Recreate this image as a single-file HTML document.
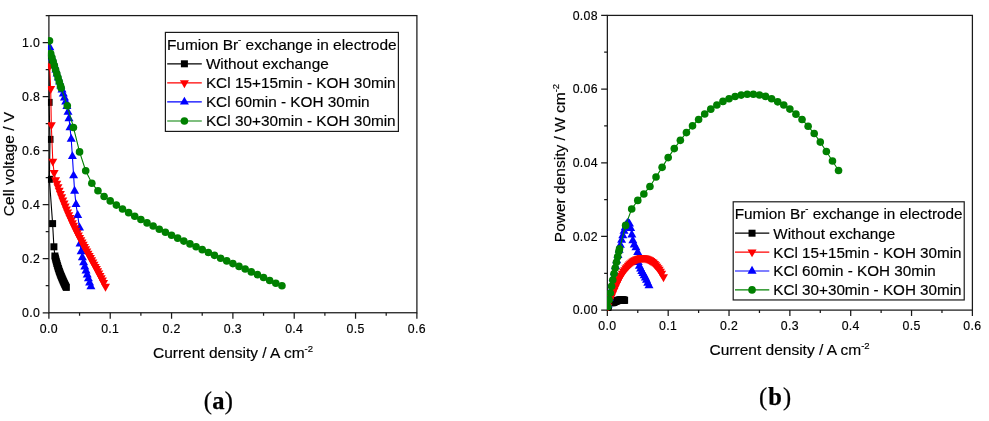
<!DOCTYPE html>
<html><head><meta charset="utf-8"><title>Figure</title>
<style>
html,body{margin:0;padding:0;background:#fff;}
body{width:989px;height:421px;overflow:hidden;font-family:"Liberation Sans",sans-serif;}
svg{display:block;will-change:transform;}
text{font-family:"Liberation Sans",sans-serif;fill:#000;stroke:#000;stroke-width:0.16px;}
.tk{font-size:12.3px;letter-spacing:0.35px;}
.ti{font-size:15.5px;}
.lg{font-size:15.35px;}
.cp{font-family:"Liberation Serif",serif;font-size:24.5px;fill:#000;stroke-width:0.25px;}
</style></head><body>
<svg width="989" height="421" viewBox="0 0 989 421">
<rect width="989" height="421" fill="#fff"/>
<defs><clipPath id="cl"><rect x="47.95" y="14.80" width="369.75" height="298.75"/></clipPath><clipPath id="cr"><rect x="607.00" y="14.60" width="366.20" height="296.30"/></clipPath></defs>
<rect x="48.9" y="15.6" width="368.00" height="297.15" fill="none" stroke="#1a1a1a" stroke-width="1.25"/>
<path d="M48.9 312.75h-6.2M48.9 258.72h-6.2M48.9 204.69h-6.2M48.9 150.67h-6.2M48.9 96.64h-6.2M48.9 42.61h-6.2M48.9 285.74h-3.2M48.9 231.71h-3.2M48.9 177.68h-3.2M48.9 123.65h-3.2M48.9 69.62h-3.2M48.9 15.60h-3.2M48.90 312.75v5.9M110.23 312.75v5.9M171.56 312.75v5.9M232.89 312.75v5.9M294.22 312.75v5.9M355.55 312.75v5.9M416.88 312.75v5.9M79.56 312.75v2.9M140.89 312.75v2.9M202.22 312.75v2.9M263.55 312.75v2.9M324.88 312.75v2.9M386.21 312.75v2.9" stroke="#1a1a1a" stroke-width="1.25" fill="none"/>
<text x="40.2" y="317.05" text-anchor="end" class="tk">0.0</text>
<text x="40.2" y="263.02" text-anchor="end" class="tk">0.2</text>
<text x="40.2" y="208.99" text-anchor="end" class="tk">0.4</text>
<text x="40.2" y="154.97" text-anchor="end" class="tk">0.6</text>
<text x="40.2" y="100.94" text-anchor="end" class="tk">0.8</text>
<text x="40.2" y="46.91" text-anchor="end" class="tk">1.0</text>
<text x="48.90" y="333.1" text-anchor="middle" class="tk">0.0</text>
<text x="110.23" y="333.1" text-anchor="middle" class="tk">0.1</text>
<text x="171.56" y="333.1" text-anchor="middle" class="tk">0.2</text>
<text x="232.89" y="333.1" text-anchor="middle" class="tk">0.3</text>
<text x="294.22" y="333.1" text-anchor="middle" class="tk">0.4</text>
<text x="355.55" y="333.1" text-anchor="middle" class="tk">0.5</text>
<text x="416.88" y="333.1" text-anchor="middle" class="tk">0.6</text>
<text transform="translate(14.0,164) rotate(-90)" text-anchor="middle" class="ti">Cell voltage / V</text>
<text x="233.0" y="358.3" text-anchor="middle" class="ti">Current density / A cm<tspan dy="-6" font-size="9.5">-2</tspan></text>
<g clip-path="url(#cl)"><polyline fill="none" stroke="#000000" stroke-width="1.1" points="49.50,56.00 49.10,102.40 50.00,139.40 49.40,179.30 52.60,223.60 53.90,246.80 54.90,256.00 55.40,258.01 55.89,259.95 56.39,261.82 56.88,263.59 57.38,265.28 57.87,266.92 58.37,268.49 58.87,269.99 59.36,271.43 59.86,272.80 60.35,274.11 60.85,275.37 61.34,276.59 61.84,277.78 62.33,278.93 62.83,280.07 63.33,281.19 63.82,282.28 64.32,283.36 64.81,284.41 65.31,285.43 65.80,286.43 66.30,287.40"/>
<g><rect x="46.00" y="52.50" width="7.00" height="7.00" fill="#000000"/><rect x="45.60" y="98.90" width="7.00" height="7.00" fill="#000000"/><rect x="46.50" y="135.90" width="7.00" height="7.00" fill="#000000"/><rect x="45.90" y="175.80" width="7.00" height="7.00" fill="#000000"/><rect x="49.10" y="220.10" width="7.00" height="7.00" fill="#000000"/><rect x="50.40" y="243.30" width="7.00" height="7.00" fill="#000000"/><rect x="51.40" y="252.50" width="7.00" height="7.00" fill="#000000"/><rect x="51.90" y="254.51" width="7.00" height="7.00" fill="#000000"/><rect x="52.39" y="256.45" width="7.00" height="7.00" fill="#000000"/><rect x="52.89" y="258.32" width="7.00" height="7.00" fill="#000000"/><rect x="53.38" y="260.09" width="7.00" height="7.00" fill="#000000"/><rect x="53.88" y="261.78" width="7.00" height="7.00" fill="#000000"/><rect x="54.37" y="263.42" width="7.00" height="7.00" fill="#000000"/><rect x="54.87" y="264.99" width="7.00" height="7.00" fill="#000000"/><rect x="55.37" y="266.49" width="7.00" height="7.00" fill="#000000"/><rect x="55.86" y="267.93" width="7.00" height="7.00" fill="#000000"/><rect x="56.36" y="269.30" width="7.00" height="7.00" fill="#000000"/><rect x="56.85" y="270.61" width="7.00" height="7.00" fill="#000000"/><rect x="57.35" y="271.87" width="7.00" height="7.00" fill="#000000"/><rect x="57.84" y="273.09" width="7.00" height="7.00" fill="#000000"/><rect x="58.34" y="274.28" width="7.00" height="7.00" fill="#000000"/><rect x="58.83" y="275.43" width="7.00" height="7.00" fill="#000000"/><rect x="59.33" y="276.57" width="7.00" height="7.00" fill="#000000"/><rect x="59.83" y="277.69" width="7.00" height="7.00" fill="#000000"/><rect x="60.32" y="278.78" width="7.00" height="7.00" fill="#000000"/><rect x="60.82" y="279.86" width="7.00" height="7.00" fill="#000000"/><rect x="61.31" y="280.91" width="7.00" height="7.00" fill="#000000"/><rect x="61.81" y="281.93" width="7.00" height="7.00" fill="#000000"/><rect x="62.30" y="282.93" width="7.00" height="7.00" fill="#000000"/><rect x="62.80" y="283.90" width="7.00" height="7.00" fill="#000000"/></g>
<polyline fill="none" stroke="#0000ff" stroke-width="1.1" points="49.80,47.50 51.00,54.00 52.23,57.98 53.45,61.96 54.68,65.94 55.90,69.92 57.13,73.90 58.36,77.88 59.58,81.86 60.81,85.84 62.03,89.82 63.26,93.80 64.49,97.78 65.71,101.76 66.90,106.40 68.00,112.00 69.00,118.50 70.00,127.60 71.20,139.00 72.40,156.40 73.60,175.70 74.60,191.10 76.00,204.40 77.70,215.30 79.50,227.80 80.00,243.80 81.20,251.60 82.40,257.50 83.60,262.50 84.80,266.80 86.00,270.80 87.20,274.80 88.40,278.70 89.60,282.80 90.90,286.60"/>
<g><path d="M45.30 50.13L54.30 50.13L49.80 42.23Z" fill="#0000ff"/><path d="M46.50 56.63L55.50 56.63L51.00 48.73Z" fill="#0000ff"/><path d="M47.73 60.61L56.73 60.61L52.23 52.71Z" fill="#0000ff"/><path d="M48.95 64.59L57.95 64.59L53.45 56.69Z" fill="#0000ff"/><path d="M50.18 68.57L59.18 68.57L54.68 60.67Z" fill="#0000ff"/><path d="M51.40 72.55L60.40 72.55L55.90 64.65Z" fill="#0000ff"/><path d="M52.63 76.53L61.63 76.53L57.13 68.63Z" fill="#0000ff"/><path d="M53.86 80.52L62.86 80.52L58.36 72.62Z" fill="#0000ff"/><path d="M55.08 84.50L64.08 84.50L59.58 76.60Z" fill="#0000ff"/><path d="M56.31 88.48L65.31 88.48L60.81 80.58Z" fill="#0000ff"/><path d="M57.53 92.46L66.53 92.46L62.03 84.56Z" fill="#0000ff"/><path d="M58.76 96.44L67.76 96.44L63.26 88.54Z" fill="#0000ff"/><path d="M59.99 100.42L68.99 100.42L64.49 92.52Z" fill="#0000ff"/><path d="M61.21 104.40L70.21 104.40L65.71 96.50Z" fill="#0000ff"/><path d="M62.40 109.03L71.40 109.03L66.90 101.13Z" fill="#0000ff"/><path d="M63.50 114.63L72.50 114.63L68.00 106.73Z" fill="#0000ff"/><path d="M64.50 121.13L73.50 121.13L69.00 113.23Z" fill="#0000ff"/><path d="M65.50 130.23L74.50 130.23L70.00 122.33Z" fill="#0000ff"/><path d="M66.70 141.63L75.70 141.63L71.20 133.73Z" fill="#0000ff"/><path d="M67.90 159.03L76.90 159.03L72.40 151.13Z" fill="#0000ff"/><path d="M69.10 178.33L78.10 178.33L73.60 170.43Z" fill="#0000ff"/><path d="M70.10 193.73L79.10 193.73L74.60 185.83Z" fill="#0000ff"/><path d="M71.50 207.03L80.50 207.03L76.00 199.13Z" fill="#0000ff"/><path d="M73.20 217.93L82.20 217.93L77.70 210.03Z" fill="#0000ff"/><path d="M75.00 230.43L84.00 230.43L79.50 222.53Z" fill="#0000ff"/><path d="M75.50 246.43L84.50 246.43L80.00 238.53Z" fill="#0000ff"/><path d="M76.70 254.23L85.70 254.23L81.20 246.33Z" fill="#0000ff"/><path d="M77.90 260.13L86.90 260.13L82.40 252.23Z" fill="#0000ff"/><path d="M79.10 265.13L88.10 265.13L83.60 257.23Z" fill="#0000ff"/><path d="M80.30 269.43L89.30 269.43L84.80 261.53Z" fill="#0000ff"/><path d="M81.50 273.43L90.50 273.43L86.00 265.53Z" fill="#0000ff"/><path d="M82.70 277.43L91.70 277.43L87.20 269.53Z" fill="#0000ff"/><path d="M83.90 281.33L92.90 281.33L88.40 273.43Z" fill="#0000ff"/><path d="M85.10 285.43L94.10 285.43L89.60 277.53Z" fill="#0000ff"/><path d="M86.40 289.23L95.40 289.23L90.90 281.33Z" fill="#0000ff"/></g>
<polyline fill="none" stroke="#ff0000" stroke-width="1.1" points="49.60,66.00 50.70,88.70 51.30,124.90 52.80,161.30 54.10,172.70 55.60,179.79 56.80,183.41 58.00,186.94 59.20,190.37 60.40,193.71 61.60,196.96 62.80,200.12 64.00,203.21 65.20,206.22 66.40,209.15 67.60,212.02 68.80,214.82 70.00,217.55 71.20,220.23 72.40,222.84 73.60,225.41 74.80,227.92 76.00,230.39 77.20,232.82 78.40,235.21 79.60,237.56 80.80,239.88 82.00,242.18 83.20,244.44 84.40,246.69 85.60,248.92 86.80,251.13 88.00,253.33 89.20,255.53 90.40,257.72 91.60,259.91 92.80,262.10 94.00,264.30 95.20,266.51 96.40,268.74 97.60,270.98 98.80,273.24 100.00,275.53 101.20,277.84 102.40,280.18 103.60,282.56 105.50,286.41"/>
<g><path d="M45.10 63.37L54.10 63.37L49.60 71.27Z" fill="#ff0000"/><path d="M46.20 86.07L55.20 86.07L50.70 93.97Z" fill="#ff0000"/><path d="M46.80 122.27L55.80 122.27L51.30 130.17Z" fill="#ff0000"/><path d="M48.30 158.67L57.30 158.67L52.80 166.57Z" fill="#ff0000"/><path d="M49.60 170.07L58.60 170.07L54.10 177.97Z" fill="#ff0000"/><path d="M51.10 177.15L60.10 177.15L55.60 185.05Z" fill="#ff0000"/><path d="M52.30 180.78L61.30 180.78L56.80 188.68Z" fill="#ff0000"/><path d="M53.50 184.30L62.50 184.30L58.00 192.20Z" fill="#ff0000"/><path d="M54.70 187.73L63.70 187.73L59.20 195.63Z" fill="#ff0000"/><path d="M55.90 191.07L64.90 191.07L60.40 198.97Z" fill="#ff0000"/><path d="M57.10 194.32L66.10 194.32L61.60 202.22Z" fill="#ff0000"/><path d="M58.30 197.49L67.30 197.49L62.80 205.39Z" fill="#ff0000"/><path d="M59.50 200.58L68.50 200.58L64.00 208.48Z" fill="#ff0000"/><path d="M60.70 203.59L69.70 203.59L65.20 211.49Z" fill="#ff0000"/><path d="M61.90 206.52L70.90 206.52L66.40 214.42Z" fill="#ff0000"/><path d="M63.10 209.39L72.10 209.39L67.60 217.29Z" fill="#ff0000"/><path d="M64.30 212.18L73.30 212.18L68.80 220.08Z" fill="#ff0000"/><path d="M65.50 214.92L74.50 214.92L70.00 222.82Z" fill="#ff0000"/><path d="M66.70 217.59L75.70 217.59L71.20 225.49Z" fill="#ff0000"/><path d="M67.90 220.21L76.90 220.21L72.40 228.11Z" fill="#ff0000"/><path d="M69.10 222.77L78.10 222.77L73.60 230.67Z" fill="#ff0000"/><path d="M70.30 225.29L79.30 225.29L74.80 233.19Z" fill="#ff0000"/><path d="M71.50 227.76L80.50 227.76L76.00 235.66Z" fill="#ff0000"/><path d="M72.70 230.19L81.70 230.19L77.20 238.09Z" fill="#ff0000"/><path d="M73.90 232.58L82.90 232.58L78.40 240.48Z" fill="#ff0000"/><path d="M75.10 234.93L84.10 234.93L79.60 242.83Z" fill="#ff0000"/><path d="M76.30 237.25L85.30 237.25L80.80 245.15Z" fill="#ff0000"/><path d="M77.50 239.54L86.50 239.54L82.00 247.44Z" fill="#ff0000"/><path d="M78.70 241.81L87.70 241.81L83.20 249.71Z" fill="#ff0000"/><path d="M79.90 244.06L88.90 244.06L84.40 251.96Z" fill="#ff0000"/><path d="M81.10 246.28L90.10 246.28L85.60 254.18Z" fill="#ff0000"/><path d="M82.30 248.50L91.30 248.50L86.80 256.40Z" fill="#ff0000"/><path d="M83.50 250.70L92.50 250.70L88.00 258.60Z" fill="#ff0000"/><path d="M84.70 252.90L93.70 252.90L89.20 260.80Z" fill="#ff0000"/><path d="M85.90 255.09L94.90 255.09L90.40 262.99Z" fill="#ff0000"/><path d="M87.10 257.28L96.10 257.28L91.60 265.18Z" fill="#ff0000"/><path d="M88.30 259.47L97.30 259.47L92.80 267.37Z" fill="#ff0000"/><path d="M89.50 261.67L98.50 261.67L94.00 269.57Z" fill="#ff0000"/><path d="M90.70 263.88L99.70 263.88L95.20 271.78Z" fill="#ff0000"/><path d="M91.90 266.11L100.90 266.11L96.40 274.01Z" fill="#ff0000"/><path d="M93.10 268.35L102.10 268.35L97.60 276.25Z" fill="#ff0000"/><path d="M94.30 270.61L103.30 270.61L98.80 278.51Z" fill="#ff0000"/><path d="M95.50 272.89L104.50 272.89L100.00 280.79Z" fill="#ff0000"/><path d="M96.70 275.21L105.70 275.21L101.20 283.11Z" fill="#ff0000"/><path d="M97.90 277.55L106.90 277.55L102.40 285.45Z" fill="#ff0000"/><path d="M99.10 279.93L108.10 279.93L103.60 287.83Z" fill="#ff0000"/><path d="M101.00 283.77L110.00 283.77L105.50 291.67Z" fill="#ff0000"/></g>
<polyline fill="none" stroke="#008000" stroke-width="1.1" points="49.50,40.85 50.70,53.50 51.93,57.55 53.15,61.60 54.38,65.64 55.60,69.69 56.83,73.74 58.06,77.79 59.28,81.84 60.51,85.88 61.17,87.99 67.30,105.69 73.43,127.43 79.56,151.88 85.70,170.79 91.83,183.22 97.96,190.78 104.10,196.45 110.23,200.91 116.36,205.10 122.50,209.02 128.63,212.64 134.76,216.23 140.89,219.55 147.03,222.90 153.16,226.06 159.29,229.20 165.43,232.19 171.56,235.25 177.69,238.14 183.83,241.08 189.96,243.92 196.09,246.78 202.22,249.67 208.36,252.48 214.49,255.35 220.62,258.21 226.76,260.88 232.89,263.61 239.02,266.39 245.16,269.07 251.29,271.90 257.42,274.66 263.56,277.55 269.69,280.44 275.82,283.20 281.95,285.82"/>
<g><circle cx="49.50" cy="40.85" r="3.8" fill="#008000"/><circle cx="50.70" cy="53.50" r="3.8" fill="#008000"/><circle cx="51.93" cy="57.55" r="3.8" fill="#008000"/><circle cx="53.15" cy="61.60" r="3.8" fill="#008000"/><circle cx="54.38" cy="65.64" r="3.8" fill="#008000"/><circle cx="55.60" cy="69.69" r="3.8" fill="#008000"/><circle cx="56.83" cy="73.74" r="3.8" fill="#008000"/><circle cx="58.06" cy="77.79" r="3.8" fill="#008000"/><circle cx="59.28" cy="81.84" r="3.8" fill="#008000"/><circle cx="60.51" cy="85.88" r="3.8" fill="#008000"/><circle cx="61.17" cy="87.99" r="3.8" fill="#008000"/><circle cx="67.30" cy="105.69" r="3.8" fill="#008000"/><circle cx="73.43" cy="127.43" r="3.8" fill="#008000"/><circle cx="79.56" cy="151.88" r="3.8" fill="#008000"/><circle cx="85.70" cy="170.79" r="3.8" fill="#008000"/><circle cx="91.83" cy="183.22" r="3.8" fill="#008000"/><circle cx="97.96" cy="190.78" r="3.8" fill="#008000"/><circle cx="104.10" cy="196.45" r="3.8" fill="#008000"/><circle cx="110.23" cy="200.91" r="3.8" fill="#008000"/><circle cx="116.36" cy="205.10" r="3.8" fill="#008000"/><circle cx="122.50" cy="209.02" r="3.8" fill="#008000"/><circle cx="128.63" cy="212.64" r="3.8" fill="#008000"/><circle cx="134.76" cy="216.23" r="3.8" fill="#008000"/><circle cx="140.89" cy="219.55" r="3.8" fill="#008000"/><circle cx="147.03" cy="222.90" r="3.8" fill="#008000"/><circle cx="153.16" cy="226.06" r="3.8" fill="#008000"/><circle cx="159.29" cy="229.20" r="3.8" fill="#008000"/><circle cx="165.43" cy="232.19" r="3.8" fill="#008000"/><circle cx="171.56" cy="235.25" r="3.8" fill="#008000"/><circle cx="177.69" cy="238.14" r="3.8" fill="#008000"/><circle cx="183.83" cy="241.08" r="3.8" fill="#008000"/><circle cx="189.96" cy="243.92" r="3.8" fill="#008000"/><circle cx="196.09" cy="246.78" r="3.8" fill="#008000"/><circle cx="202.22" cy="249.67" r="3.8" fill="#008000"/><circle cx="208.36" cy="252.48" r="3.8" fill="#008000"/><circle cx="214.49" cy="255.35" r="3.8" fill="#008000"/><circle cx="220.62" cy="258.21" r="3.8" fill="#008000"/><circle cx="226.76" cy="260.88" r="3.8" fill="#008000"/><circle cx="232.89" cy="263.61" r="3.8" fill="#008000"/><circle cx="239.02" cy="266.39" r="3.8" fill="#008000"/><circle cx="245.16" cy="269.07" r="3.8" fill="#008000"/><circle cx="251.29" cy="271.90" r="3.8" fill="#008000"/><circle cx="257.42" cy="274.66" r="3.8" fill="#008000"/><circle cx="263.56" cy="277.55" r="3.8" fill="#008000"/><circle cx="269.69" cy="280.44" r="3.8" fill="#008000"/><circle cx="275.82" cy="283.20" r="3.8" fill="#008000"/><circle cx="281.95" cy="285.82" r="3.8" fill="#008000"/></g></g>
<rect x="165.4" y="32.4" width="233.00" height="99.00" fill="#fff" stroke="#1a1a1a" stroke-width="1.2"/>
<text x="166.9" y="49.70" class="lg" style="font-size:15.45px">Fumion Br<tspan dy="-6.5" font-size="9.5">-</tspan><tspan dy="6.5"> exchange in electrode</tspan></text>
<line x1="167.20000000000002" x2="201.80" y1="63.80" y2="63.80" stroke="#000000" stroke-width="1.2"/>
<rect x="180.90" y="60.30" width="7.00" height="7.00" fill="#000000"/>
<text x="205.90" y="69.20" class="lg" style="font-size:15.35px">Without exchange</text>
<line x1="167.20000000000002" x2="201.80" y1="82.87" y2="82.87" stroke="#ff0000" stroke-width="1.2"/>
<path d="M179.90 80.24L188.90 80.24L184.40 88.14Z" fill="#ff0000"/>
<text x="205.90" y="88.27" class="lg" style="font-size:15.35px">KCl 15+15min - KOH 30min</text>
<line x1="167.20000000000002" x2="201.80" y1="101.94" y2="101.94" stroke="#0000ff" stroke-width="1.2"/>
<path d="M179.90 104.57L188.90 104.57L184.40 96.67Z" fill="#0000ff"/>
<text x="205.90" y="107.34" class="lg" style="font-size:15.35px">KCl 60min - KOH 30min</text>
<line x1="167.20000000000002" x2="201.80" y1="121.01" y2="121.01" stroke="#008000" stroke-width="1.2"/>
<circle cx="184.40" cy="121.01" r="3.8" fill="#008000"/>
<text x="205.90" y="126.41" class="lg" style="font-size:15.35px">KCl 30+30min - KOH 30min</text>
<rect x="607.35" y="15.4" width="365.05" height="294.70" fill="none" stroke="#1a1a1a" stroke-width="1.25"/>
<path d="M607.35 310.10h-6.2M607.35 236.43h-6.2M607.35 162.75h-6.2M607.35 89.08h-6.2M607.35 15.40h-6.2M607.35 273.26h-3.2M607.35 199.59h-3.2M607.35 125.91h-3.2M607.35 52.24h-3.2M607.35 310.1v5.9M668.19 310.1v5.9M729.03 310.1v5.9M789.87 310.1v5.9M850.71 310.1v5.9M911.55 310.1v5.9M972.39 310.1v5.9M637.77 310.1v2.9M698.61 310.1v2.9M759.45 310.1v2.9M820.29 310.1v2.9M881.13 310.1v2.9M941.97 310.1v2.9" stroke="#1a1a1a" stroke-width="1.25" fill="none"/>
<text x="598.0" y="314.40" text-anchor="end" class="tk">0.00</text>
<text x="598.0" y="240.73" text-anchor="end" class="tk">0.02</text>
<text x="598.0" y="167.05" text-anchor="end" class="tk">0.04</text>
<text x="598.0" y="93.38" text-anchor="end" class="tk">0.06</text>
<text x="598.0" y="19.70" text-anchor="end" class="tk">0.08</text>
<text x="607.35" y="330.1" text-anchor="middle" class="tk">0.0</text>
<text x="668.19" y="330.1" text-anchor="middle" class="tk">0.1</text>
<text x="729.03" y="330.1" text-anchor="middle" class="tk">0.2</text>
<text x="789.87" y="330.1" text-anchor="middle" class="tk">0.3</text>
<text x="850.71" y="330.1" text-anchor="middle" class="tk">0.4</text>
<text x="911.55" y="330.1" text-anchor="middle" class="tk">0.5</text>
<text x="972.39" y="330.1" text-anchor="middle" class="tk">0.6</text>
<text transform="translate(564.5,163) rotate(-90)" text-anchor="middle" class="ti">Power density / W cm<tspan dy="-6" font-size="9.5">-2</tspan></text>
<text x="789.6" y="355.3" text-anchor="middle" class="ti">Current density / A cm<tspan dy="-6" font-size="9.5">-2</tspan></text>
<g clip-path="url(#cr)"><polyline fill="none" stroke="#000000" stroke-width="1.1" points="607.95,306.67 607.55,309.16 608.44,305.86 607.85,308.62 611.02,302.77 612.31,302.77 613.30,302.53 613.79,302.19 614.29,301.89 614.78,301.62 615.27,301.38 615.76,301.15 616.25,300.95 616.74,300.78 617.24,300.63 617.73,300.49 618.22,300.37 618.71,300.26 619.20,300.17 619.69,300.10 620.19,300.04 620.68,300.00 621.17,299.98 621.66,299.98 622.15,299.99 622.64,300.02 623.14,300.07 623.63,300.13 624.12,300.21 624.61,300.29"/>
<g><rect x="604.45" y="303.17" width="7.00" height="7.00" fill="#000000"/><rect x="604.05" y="305.66" width="7.00" height="7.00" fill="#000000"/><rect x="604.94" y="302.36" width="7.00" height="7.00" fill="#000000"/><rect x="604.35" y="305.12" width="7.00" height="7.00" fill="#000000"/><rect x="607.52" y="299.27" width="7.00" height="7.00" fill="#000000"/><rect x="608.81" y="299.27" width="7.00" height="7.00" fill="#000000"/><rect x="609.80" y="299.03" width="7.00" height="7.00" fill="#000000"/><rect x="610.29" y="298.69" width="7.00" height="7.00" fill="#000000"/><rect x="610.79" y="298.39" width="7.00" height="7.00" fill="#000000"/><rect x="611.28" y="298.12" width="7.00" height="7.00" fill="#000000"/><rect x="611.77" y="297.88" width="7.00" height="7.00" fill="#000000"/><rect x="612.26" y="297.65" width="7.00" height="7.00" fill="#000000"/><rect x="612.75" y="297.45" width="7.00" height="7.00" fill="#000000"/><rect x="613.24" y="297.28" width="7.00" height="7.00" fill="#000000"/><rect x="613.74" y="297.13" width="7.00" height="7.00" fill="#000000"/><rect x="614.23" y="296.99" width="7.00" height="7.00" fill="#000000"/><rect x="614.72" y="296.87" width="7.00" height="7.00" fill="#000000"/><rect x="615.21" y="296.76" width="7.00" height="7.00" fill="#000000"/><rect x="615.70" y="296.67" width="7.00" height="7.00" fill="#000000"/><rect x="616.19" y="296.60" width="7.00" height="7.00" fill="#000000"/><rect x="616.69" y="296.54" width="7.00" height="7.00" fill="#000000"/><rect x="617.18" y="296.50" width="7.00" height="7.00" fill="#000000"/><rect x="617.67" y="296.48" width="7.00" height="7.00" fill="#000000"/><rect x="618.16" y="296.48" width="7.00" height="7.00" fill="#000000"/><rect x="618.65" y="296.49" width="7.00" height="7.00" fill="#000000"/><rect x="619.14" y="296.52" width="7.00" height="7.00" fill="#000000"/><rect x="619.64" y="296.57" width="7.00" height="7.00" fill="#000000"/><rect x="620.13" y="296.63" width="7.00" height="7.00" fill="#000000"/><rect x="620.62" y="296.71" width="7.00" height="7.00" fill="#000000"/><rect x="621.11" y="296.79" width="7.00" height="7.00" fill="#000000"/></g>
<polyline fill="none" stroke="#0000ff" stroke-width="1.1" points="608.24,304.79 609.43,298.02 610.65,291.26 611.87,284.72 613.08,278.39 614.30,272.28 615.51,266.39 616.73,260.72 617.95,255.26 619.16,250.02 620.38,245.00 621.60,240.19 622.81,235.60 624.03,231.23 625.21,227.51 626.30,224.85 627.29,223.29 628.28,223.24 629.47,223.95 630.66,228.41 631.85,234.83 632.84,240.59 634.23,244.81 635.92,247.70 637.71,252.30 638.20,262.42 639.39,266.18 640.58,268.95 641.77,271.33 642.96,273.42 644.15,275.50 645.34,277.78 646.53,280.20 647.72,283.00 649.01,285.68"/>
<g><path d="M603.74 307.43L612.74 307.43L608.24 299.53Z" fill="#0000ff"/><path d="M604.93 300.65L613.93 300.65L609.43 292.75Z" fill="#0000ff"/><path d="M606.15 293.89L615.15 293.89L610.65 285.99Z" fill="#0000ff"/><path d="M607.37 287.35L616.37 287.35L611.87 279.45Z" fill="#0000ff"/><path d="M608.58 281.03L617.58 281.03L613.08 273.13Z" fill="#0000ff"/><path d="M609.80 274.92L618.80 274.92L614.30 267.02Z" fill="#0000ff"/><path d="M611.01 269.03L620.01 269.03L615.51 261.13Z" fill="#0000ff"/><path d="M612.23 263.35L621.23 263.35L616.73 255.45Z" fill="#0000ff"/><path d="M613.45 257.90L622.45 257.90L617.95 250.00Z" fill="#0000ff"/><path d="M614.66 252.66L623.66 252.66L619.16 244.76Z" fill="#0000ff"/><path d="M615.88 247.63L624.88 247.63L620.38 239.73Z" fill="#0000ff"/><path d="M617.10 242.83L626.10 242.83L621.60 234.93Z" fill="#0000ff"/><path d="M618.31 238.24L627.31 238.24L622.81 230.34Z" fill="#0000ff"/><path d="M619.53 233.87L628.53 233.87L624.03 225.97Z" fill="#0000ff"/><path d="M620.71 230.15L629.71 230.15L625.21 222.25Z" fill="#0000ff"/><path d="M621.80 227.48L630.80 227.48L626.30 219.58Z" fill="#0000ff"/><path d="M622.79 225.92L631.79 225.92L627.29 218.02Z" fill="#0000ff"/><path d="M623.78 225.87L632.78 225.87L628.28 217.97Z" fill="#0000ff"/><path d="M624.97 226.58L633.97 226.58L629.47 218.68Z" fill="#0000ff"/><path d="M626.16 231.04L635.16 231.04L630.66 223.14Z" fill="#0000ff"/><path d="M627.35 237.47L636.35 237.47L631.85 229.57Z" fill="#0000ff"/><path d="M628.34 243.22L637.34 243.22L632.84 235.32Z" fill="#0000ff"/><path d="M629.73 247.45L638.73 247.45L634.23 239.55Z" fill="#0000ff"/><path d="M631.42 250.33L640.42 250.33L635.92 242.43Z" fill="#0000ff"/><path d="M633.21 254.94L642.21 254.94L637.71 247.04Z" fill="#0000ff"/><path d="M633.70 265.05L642.70 265.05L638.20 257.15Z" fill="#0000ff"/><path d="M634.89 268.82L643.89 268.82L639.39 260.92Z" fill="#0000ff"/><path d="M636.08 271.58L645.08 271.58L640.58 263.68Z" fill="#0000ff"/><path d="M637.27 273.96L646.27 273.96L641.77 266.06Z" fill="#0000ff"/><path d="M638.46 276.06L647.46 276.06L642.96 268.16Z" fill="#0000ff"/><path d="M639.65 278.13L648.65 278.13L644.15 270.23Z" fill="#0000ff"/><path d="M640.84 280.42L649.84 280.42L645.34 272.52Z" fill="#0000ff"/><path d="M642.03 282.83L651.03 282.83L646.53 274.93Z" fill="#0000ff"/><path d="M643.22 285.63L652.22 285.63L647.72 277.73Z" fill="#0000ff"/><path d="M644.51 288.31L653.51 288.31L649.01 280.41Z" fill="#0000ff"/></g>
<polyline fill="none" stroke="#ff0000" stroke-width="1.1" points="608.04,306.26 609.14,301.13 609.73,300.08 611.22,296.97 612.51,293.91 614.00,290.29 615.19,287.38 616.38,284.64 617.57,282.07 618.76,279.66 619.95,277.40 621.14,275.29 622.33,273.32 623.52,271.49 624.71,269.79 625.90,268.22 627.09,266.77 628.28,265.44 629.47,264.22 630.66,263.12 631.85,262.13 633.04,261.25 634.23,260.48 635.42,259.81 636.61,259.24 637.80,258.78 639.00,258.42 640.19,258.16 641.38,258.01 642.57,257.96 643.76,258.01 644.95,258.17 646.14,258.44 647.33,258.83 648.52,259.32 649.71,259.93 650.90,260.66 652.09,261.52 653.28,262.50 654.47,263.62 655.66,264.87 656.85,266.26 658.04,267.81 659.23,269.50 660.42,271.36 661.61,273.38 663.50,276.95"/>
<g><path d="M603.54 303.63L612.54 303.63L608.04 311.53Z" fill="#ff0000"/><path d="M604.64 298.50L613.64 298.50L609.14 306.40Z" fill="#ff0000"/><path d="M605.23 297.44L614.23 297.44L609.73 305.34Z" fill="#ff0000"/><path d="M606.72 294.33L615.72 294.33L611.22 302.23Z" fill="#ff0000"/><path d="M608.01 291.27L617.01 291.27L612.51 299.17Z" fill="#ff0000"/><path d="M609.50 287.66L618.50 287.66L614.00 295.56Z" fill="#ff0000"/><path d="M610.69 284.75L619.69 284.75L615.19 292.65Z" fill="#ff0000"/><path d="M611.88 282.01L620.88 282.01L616.38 289.91Z" fill="#ff0000"/><path d="M613.07 279.44L622.07 279.44L617.57 287.34Z" fill="#ff0000"/><path d="M614.26 277.03L623.26 277.03L618.76 284.93Z" fill="#ff0000"/><path d="M615.45 274.77L624.45 274.77L619.95 282.67Z" fill="#ff0000"/><path d="M616.64 272.66L625.64 272.66L621.14 280.56Z" fill="#ff0000"/><path d="M617.83 270.69L626.83 270.69L622.33 278.59Z" fill="#ff0000"/><path d="M619.02 268.86L628.02 268.86L623.52 276.76Z" fill="#ff0000"/><path d="M620.21 267.16L629.21 267.16L624.71 275.06Z" fill="#ff0000"/><path d="M621.40 265.58L630.40 265.58L625.90 273.48Z" fill="#ff0000"/><path d="M622.59 264.13L631.59 264.13L627.09 272.03Z" fill="#ff0000"/><path d="M623.78 262.80L632.78 262.80L628.28 270.70Z" fill="#ff0000"/><path d="M624.97 261.59L633.97 261.59L629.47 269.49Z" fill="#ff0000"/><path d="M626.16 260.49L635.16 260.49L630.66 268.39Z" fill="#ff0000"/><path d="M627.35 259.50L636.35 259.50L631.85 267.40Z" fill="#ff0000"/><path d="M628.54 258.62L637.54 258.62L633.04 266.52Z" fill="#ff0000"/><path d="M629.73 257.84L638.73 257.84L634.23 265.74Z" fill="#ff0000"/><path d="M630.92 257.17L639.92 257.17L635.42 265.07Z" fill="#ff0000"/><path d="M632.11 256.61L641.11 256.61L636.61 264.51Z" fill="#ff0000"/><path d="M633.30 256.14L642.30 256.14L637.80 264.04Z" fill="#ff0000"/><path d="M634.50 255.78L643.50 255.78L639.00 263.68Z" fill="#ff0000"/><path d="M635.69 255.53L644.69 255.53L640.19 263.43Z" fill="#ff0000"/><path d="M636.88 255.37L645.88 255.37L641.38 263.27Z" fill="#ff0000"/><path d="M638.07 255.32L647.07 255.32L642.57 263.22Z" fill="#ff0000"/><path d="M639.26 255.38L648.26 255.38L643.76 263.28Z" fill="#ff0000"/><path d="M640.45 255.54L649.45 255.54L644.95 263.44Z" fill="#ff0000"/><path d="M641.64 255.81L650.64 255.81L646.14 263.71Z" fill="#ff0000"/><path d="M642.83 256.19L651.83 256.19L647.33 264.09Z" fill="#ff0000"/><path d="M644.02 256.69L653.02 256.69L648.52 264.59Z" fill="#ff0000"/><path d="M645.21 257.30L654.21 257.30L649.71 265.20Z" fill="#ff0000"/><path d="M646.40 258.03L655.40 258.03L650.90 265.93Z" fill="#ff0000"/><path d="M647.59 258.89L656.59 258.89L652.09 266.79Z" fill="#ff0000"/><path d="M648.78 259.87L657.78 259.87L653.28 267.77Z" fill="#ff0000"/><path d="M649.97 260.98L658.97 260.98L654.47 268.88Z" fill="#ff0000"/><path d="M651.16 262.24L660.16 262.24L655.66 270.14Z" fill="#ff0000"/><path d="M652.35 263.63L661.35 263.63L656.85 271.53Z" fill="#ff0000"/><path d="M653.54 265.17L662.54 265.17L658.04 273.07Z" fill="#ff0000"/><path d="M654.73 266.87L663.73 266.87L659.23 274.77Z" fill="#ff0000"/><path d="M655.92 268.73L664.92 268.73L660.42 276.63Z" fill="#ff0000"/><path d="M657.11 270.75L666.11 270.75L661.61 278.65Z" fill="#ff0000"/><path d="M659.00 274.31L668.00 274.31L663.50 282.21Z" fill="#ff0000"/></g>
<polyline fill="none" stroke="#008000" stroke-width="1.1" points="607.95,306.47 609.14,299.72 610.35,292.93 611.57,286.36 612.78,280.00 614.00,273.87 615.22,267.96 616.43,262.27 617.65,256.80 618.87,251.55 619.52,248.80 625.60,225.39 631.69,209.02 637.77,200.42 643.85,193.95 649.94,186.45 656.02,177.04 662.11,167.37 668.19,157.59 674.27,148.62 680.36,140.35 686.44,132.62 692.53,125.83 698.61,119.47 704.69,114.07 710.78,109.14 716.86,105.01 722.95,101.39 729.03,98.73 735.11,96.44 741.20,95.09 747.28,94.22 753.37,94.20 759.45,95.06 765.53,96.42 771.62,98.74 777.70,101.85 783.79,104.99 789.87,109.08 795.95,114.14 802.04,119.49 808.12,126.30 814.21,133.50 820.29,142.10 826.37,151.49 832.46,160.99 838.54,170.54"/>
<g><circle cx="607.95" cy="306.47" r="3.8" fill="#008000"/><circle cx="609.14" cy="299.72" r="3.8" fill="#008000"/><circle cx="610.35" cy="292.93" r="3.8" fill="#008000"/><circle cx="611.57" cy="286.36" r="3.8" fill="#008000"/><circle cx="612.78" cy="280.00" r="3.8" fill="#008000"/><circle cx="614.00" cy="273.87" r="3.8" fill="#008000"/><circle cx="615.22" cy="267.96" r="3.8" fill="#008000"/><circle cx="616.43" cy="262.27" r="3.8" fill="#008000"/><circle cx="617.65" cy="256.80" r="3.8" fill="#008000"/><circle cx="618.87" cy="251.55" r="3.8" fill="#008000"/><circle cx="619.52" cy="248.80" r="3.8" fill="#008000"/><circle cx="625.60" cy="225.39" r="3.8" fill="#008000"/><circle cx="631.69" cy="209.02" r="3.8" fill="#008000"/><circle cx="637.77" cy="200.42" r="3.8" fill="#008000"/><circle cx="643.85" cy="193.95" r="3.8" fill="#008000"/><circle cx="649.94" cy="186.45" r="3.8" fill="#008000"/><circle cx="656.02" cy="177.04" r="3.8" fill="#008000"/><circle cx="662.11" cy="167.37" r="3.8" fill="#008000"/><circle cx="668.19" cy="157.59" r="3.8" fill="#008000"/><circle cx="674.27" cy="148.62" r="3.8" fill="#008000"/><circle cx="680.36" cy="140.35" r="3.8" fill="#008000"/><circle cx="686.44" cy="132.62" r="3.8" fill="#008000"/><circle cx="692.53" cy="125.83" r="3.8" fill="#008000"/><circle cx="698.61" cy="119.47" r="3.8" fill="#008000"/><circle cx="704.69" cy="114.07" r="3.8" fill="#008000"/><circle cx="710.78" cy="109.14" r="3.8" fill="#008000"/><circle cx="716.86" cy="105.01" r="3.8" fill="#008000"/><circle cx="722.95" cy="101.39" r="3.8" fill="#008000"/><circle cx="729.03" cy="98.73" r="3.8" fill="#008000"/><circle cx="735.11" cy="96.44" r="3.8" fill="#008000"/><circle cx="741.20" cy="95.09" r="3.8" fill="#008000"/><circle cx="747.28" cy="94.22" r="3.8" fill="#008000"/><circle cx="753.37" cy="94.20" r="3.8" fill="#008000"/><circle cx="759.45" cy="95.06" r="3.8" fill="#008000"/><circle cx="765.53" cy="96.42" r="3.8" fill="#008000"/><circle cx="771.62" cy="98.74" r="3.8" fill="#008000"/><circle cx="777.70" cy="101.85" r="3.8" fill="#008000"/><circle cx="783.79" cy="104.99" r="3.8" fill="#008000"/><circle cx="789.87" cy="109.08" r="3.8" fill="#008000"/><circle cx="795.95" cy="114.14" r="3.8" fill="#008000"/><circle cx="802.04" cy="119.49" r="3.8" fill="#008000"/><circle cx="808.12" cy="126.30" r="3.8" fill="#008000"/><circle cx="814.21" cy="133.50" r="3.8" fill="#008000"/><circle cx="820.29" cy="142.10" r="3.8" fill="#008000"/><circle cx="826.37" cy="151.49" r="3.8" fill="#008000"/><circle cx="832.46" cy="160.99" r="3.8" fill="#008000"/><circle cx="838.54" cy="170.54" r="3.8" fill="#008000"/></g></g>
<rect x="733.2" y="201.8" width="231.02" height="98.16" fill="#fff" stroke="#1a1a1a" stroke-width="1.2"/>
<text x="734.7" y="218.95" class="lg" style="font-size:15.32px">Fumion Br<tspan dy="-6.5" font-size="9.5">-</tspan><tspan dy="6.5"> exchange in electrode</tspan></text>
<line x1="735.0" x2="769.29" y1="233.20" y2="233.20" stroke="#000000" stroke-width="1.2"/>
<rect x="748.54" y="229.70" width="7.00" height="7.00" fill="#000000"/>
<text x="773.36" y="238.60" class="lg" style="font-size:15.22px">Without exchange</text>
<line x1="735.0" x2="769.29" y1="252.11" y2="252.11" stroke="#ff0000" stroke-width="1.2"/>
<path d="M747.54 249.47L756.54 249.47L752.04 257.37Z" fill="#ff0000"/>
<text x="773.36" y="257.51" class="lg" style="font-size:15.22px">KCl 15+15min - KOH 30min</text>
<line x1="735.0" x2="769.29" y1="271.02" y2="271.02" stroke="#0000ff" stroke-width="1.2"/>
<path d="M747.54 273.65L756.54 273.65L752.04 265.75Z" fill="#0000ff"/>
<text x="773.36" y="276.42" class="lg" style="font-size:15.22px">KCl 60min - KOH 30min</text>
<line x1="735.0" x2="769.29" y1="289.92" y2="289.92" stroke="#008000" stroke-width="1.2"/>
<circle cx="752.04" cy="289.92" r="3.8" fill="#008000"/>
<text x="773.36" y="295.32" class="lg" style="font-size:15.22px">KCl 30+30min - KOH 30min</text>
<text x="218.5" y="408.8" text-anchor="middle" class="cp" style="letter-spacing:0.3px">(<tspan font-weight="bold">a</tspan>)</text>
<text x="775.7" y="404.8" text-anchor="middle" class="cp" style="letter-spacing:1.1px">(<tspan font-weight="bold">b</tspan>)</text>
</svg>
</body></html>
